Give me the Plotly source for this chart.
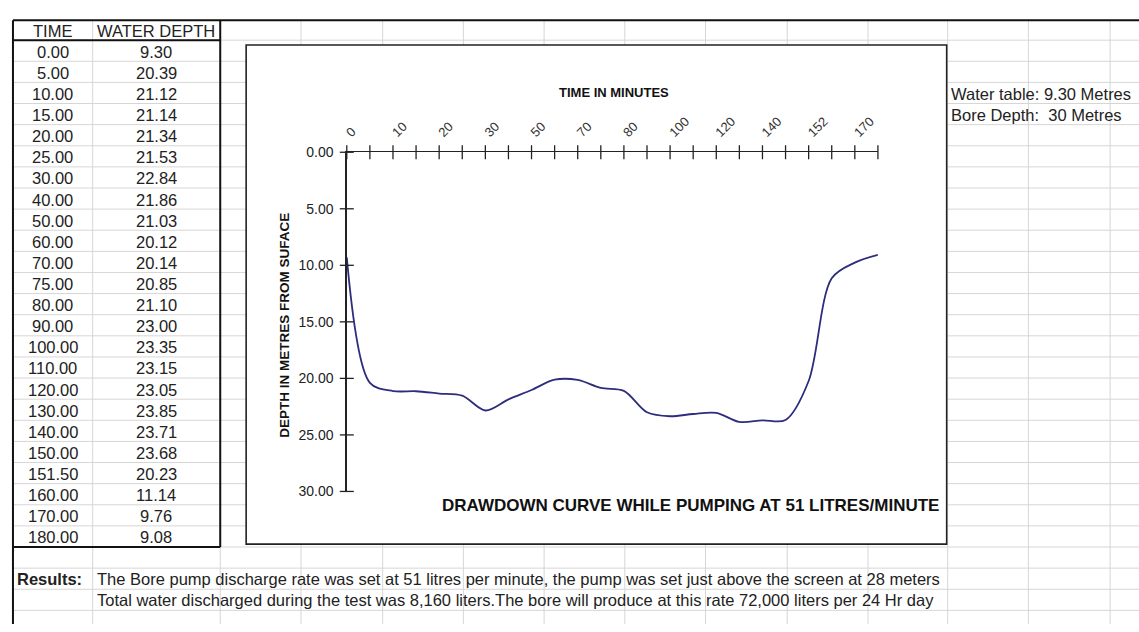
import plotly.graph_objects as go

# ---------------- data ----------------
times = [0, 5, 10, 15, 20, 25, 30, 40, 50, 60, 70, 75, 80, 90, 100, 110,
         120, 130, 140, 150, 151.5, 160, 170, 180]
depth = [9.30, 20.39, 21.12, 21.14, 21.34, 21.53, 22.84, 21.86, 21.03, 20.12,
         20.14, 20.85, 21.10, 23.00, 23.35, 23.15, 23.05, 23.85, 23.71, 23.68,
         20.23, 11.14, 9.76, 9.08]
y_ticks = [0, 5, 10, 15, 20, 25, 30]
table_headers = ["TIME", "WATER DEPTH"]
info_lines = ["Water table: 9.30 Metres", "Bore Depth:  30 Metres"]
results_label = "Results:"
results_lines = [
    "The Bore pump discharge rate was set at 51 litres per minute, the pump was set just above the screen at 28 meters",
    "Total water discharged during the test was 8,160 liters.The bore will produce at this rate 72,000 liters per 24 Hr day",
]
x_title = "TIME IN MINUTES"
y_title = "DEPTH IN METRES FROM SUFACE"
chart_title = "DRAWDOWN CURVE WHILE PUMPING AT 51 LITRES/MINUTE"

# ---------------- geometry (pixels) ----------------
W, H = 1139, 632
FONT = "Liberation Sans, Arial, sans-serif"
CELL_FS = 16.5


def px(x):
    return x / W


def py(y):
    return 1 - y / H


top_y = 12.5
left_x = 9
row0 = 33.0
row_h = 21.667
col_lines = [89, 217, 298, 380, 461, 542, 623, 704, 786, 867, 947, 1028, 1110]
grid_col = "#d6d6d6"

plot_x0, plot_x1 = 344, 877
plot_y0, plot_y1 = 148, 496
chart_box = (243, 38, 946, 550)

shapes = []
# horizontal grid lines
k = 0
while row0 + k * row_h <= H:
    yy = row0 + k * row_h
    shapes.append(dict(type="line", xref="paper", yref="paper", layer="below",
                       x0=px(left_x), x1=1, y0=py(yy), y1=py(yy),
                       line=dict(color=grid_col, width=1)))
    k += 1
# vertical grid lines
for cx in col_lines:
    shapes.append(dict(type="line", xref="paper", yref="paper", layer="below",
                       x0=px(cx), x1=px(cx), y0=py(top_y), y1=0,
                       line=dict(color=grid_col, width=1)))

n_rows = len(times)
table_bottom = row0 + n_rows * row_h
thick = dict(color="#111111", width=2)
# top border, left border
shapes.append(dict(type="line", xref="paper", yref="paper", layer="below",
                   x0=px(left_x), x1=1, y0=py(top_y), y1=py(top_y), line=thick))
shapes.append(dict(type="line", xref="paper", yref="paper", layer="below",
                   x0=px(left_x), x1=px(left_x), y0=py(top_y), y1=0, line=thick))
# table borders
shapes.append(dict(type="line", xref="paper", yref="paper", layer="below",
                   x0=px(left_x), x1=px(217), y0=py(row0), y1=py(row0), line=thick))
shapes.append(dict(type="line", xref="paper", yref="paper", layer="below",
                   x0=px(217), x1=px(217), y0=py(top_y), y1=py(table_bottom), line=thick))
shapes.append(dict(type="line", xref="paper", yref="paper", layer="below",
                   x0=px(left_x), x1=px(217), y0=py(table_bottom), y1=py(table_bottom), line=thick))
# chart box
shapes.append(dict(type="rect", xref="paper", yref="paper", layer="below",
                   x0=px(chart_box[0]), x1=px(chart_box[2]),
                   y0=py(chart_box[3]), y1=py(chart_box[1]),
                   fillcolor="white", line=dict(color="#222222", width=1.6)))

annotations = []
txt_col = "#222222"
col_centers = [49, 153]
for c, htxt in zip(col_centers, table_headers):
    annotations.append(dict(xref="paper", yref="paper", x=px(c), y=py((top_y + row0) / 2 + 0.5),
                            text=htxt, showarrow=False, xanchor="center", yanchor="middle",
                            font=dict(family=FONT, size=CELL_FS, color=txt_col)))
for i, (t, d) in enumerate(zip(times, depth)):
    yc = row0 + (i + 0.5) * row_h + 1
    annotations.append(dict(xref="paper", yref="paper", x=px(col_centers[0]), y=py(yc),
                            text=f"{t:.2f}", showarrow=False, xanchor="center", yanchor="middle",
                            font=dict(family=FONT, size=CELL_FS, color=txt_col)))
    annotations.append(dict(xref="paper", yref="paper", x=px(col_centers[1]), y=py(yc),
                            text=f"{d:.2f}", showarrow=False, xanchor="center", yanchor="middle",
                            font=dict(family=FONT, size=CELL_FS, color=txt_col)))

for j, line in enumerate(info_lines):
    yc = row0 + (2 + j + 0.5) * row_h + 1
    annotations.append(dict(xref="paper", yref="paper", x=px(948), y=py(yc),
                            text=line.replace("  ", "&nbsp; "), showarrow=False,
                            xanchor="left", yanchor="middle",
                            font=dict(family=FONT, size=CELL_FS, color=txt_col)))

res_row = n_rows + 1
annotations.append(dict(xref="paper", yref="paper", x=px(11), y=py(row0 + (res_row + 0.5) * row_h + 0.5),
                        text=f"<b>{results_label}</b>", showarrow=False, xanchor="left", yanchor="middle",
                        font=dict(family=FONT, size=CELL_FS, color=txt_col)))
for j, line in enumerate(results_lines):
    annotations.append(dict(xref="paper", yref="paper", x=px(91),
                            y=py(row0 + (res_row + j + 0.5) * row_h + 0.5),
                            text=line, showarrow=False, xanchor="left", yanchor="middle",
                            font=dict(family=FONT, size=CELL_FS, color=txt_col)))

# chart titles
annotations.append(dict(xref="paper", yref="paper", x=px((plot_x0 + plot_x1) / 2 + 2), y=py(87),
                        text=f"<b>{x_title}</b>", showarrow=False, xanchor="center", yanchor="middle",
                        font=dict(family=FONT, size=13, color="#111111")))
annotations.append(dict(xref="paper", yref="paper", x=px(282), y=py((plot_y0 + plot_y1) / 2 + 4),
                        text=f"<b>{y_title}</b>", showarrow=False, textangle=-90,
                        xanchor="center", yanchor="middle",
                        font=dict(family=FONT, size=13.5, color="#111111")))
annotations.append(dict(xref="paper", yref="paper", x=px(940), y=py(510),
                        text=f"<b>{chart_title}</b>", showarrow=False, xanchor="right", yanchor="middle",
                        font=dict(family=FONT, size=17, color="#111111")))

idx = list(range(len(times)))
tick_text = [str(int(t + 0.5)) if i % 2 == 0 else "" for i, t in enumerate(times)]

fig = go.Figure()
fig.add_trace(go.Scatter(x=idx, y=depth, mode="lines", hoverinfo="skip",
                         line=dict(color="#2d2d7d", width=1.8, shape="spline", smoothing=0.9)))
# cross tick marks
fig.add_trace(go.Scatter(x=[0] * len(y_ticks), y=y_ticks, mode="markers", cliponaxis=False,
                         hoverinfo="skip",
                         marker=dict(symbol="line-ew", size=10, line=dict(color="#222222", width=1.3))))
fig.add_trace(go.Scatter(x=idx, y=[0] * len(idx), mode="markers", cliponaxis=False,
                         hoverinfo="skip",
                         marker=dict(symbol="line-ns", size=10, line=dict(color="#222222", width=1.3))))

fig.update_layout(
    width=W, height=H, autosize=False,
    margin=dict(l=0, r=0, t=0, b=0),
    paper_bgcolor="white", plot_bgcolor="rgba(0,0,0,0)",
    showlegend=False,
    shapes=shapes, annotations=annotations,
    xaxis=dict(domain=[px(plot_x0), px(plot_x1)], range=[0, len(times) - 1], side="top",
               showline=True, linecolor="#222222", linewidth=1.5, showgrid=False, zeroline=False,
               tickmode="array", tickvals=idx, ticktext=tick_text, tickangle=-45, ticks="",
               ticklabelstandoff=6,
               tickfont=dict(family=FONT, size=13, color="#333333"), fixedrange=True),
    yaxis=dict(domain=[py(plot_y1), py(plot_y0)], range=[30, 0],
               showline=True, linecolor="#222222", linewidth=1.5, showgrid=False, zeroline=False,
               tickmode="array", tickvals=y_ticks, tickformat=".2f", ticks="",
               ticklabelstandoff=9,
               tickfont=dict(family=FONT, size=14, color="#222222"), fixedrange=True),
)

fig.write_html(
    "out.html",
    config={"displayModeBar": False, "staticPlot": True},
    post_script="document.body.style.margin='0';document.body.style.overflow='hidden';",
)
